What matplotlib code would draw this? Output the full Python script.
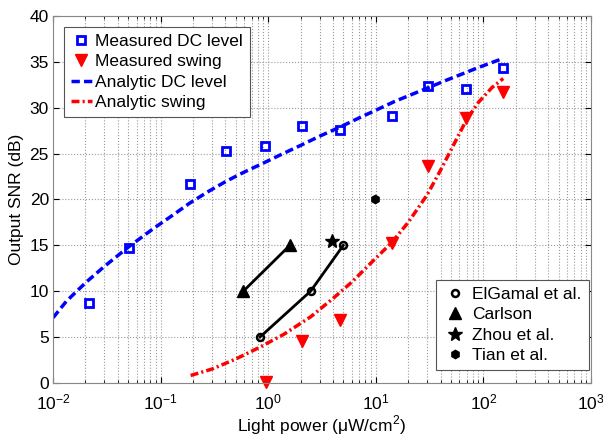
import numpy as np
import matplotlib.pyplot as plt

plt.rcParams['font.family'] = ['Liberation Sans', 'DejaVu Sans']
plt.rcParams['mathtext.fontset'] = 'custom'
plt.rcParams['mathtext.rm'] = 'Liberation Sans'

# measured DC level (squares)
dc_x = [0.0218, 0.0508, 0.186, 0.408, 0.933, 2.06, 4.65, 14.2, 30.8, 68.9, 153]
dc_y = [8.7, 14.7, 21.7, 25.3, 25.8, 28.0, 27.6, 29.1, 32.4, 32.1, 34.3]

# measured swing (triangles)
sw_x = [0.95, 2.07, 4.68, 14.06, 30.7, 68.9, 153]
sw_y = [0.1, 4.6, 6.8, 15.2, 23.7, 28.85, 31.75]

# analytic DC level
adc_x = [0.01, 0.0133, 0.0204, 0.03, 0.05, 0.085, 0.13, 0.186, 0.28, 0.408, 0.6,
         0.84, 1.37, 2.0, 3.0, 4.65, 7.0, 9.84, 15, 20, 30.8, 45, 60.6, 90, 153]
adc_y = [7.1, 8.9, 11.0, 12.7, 14.8, 16.8, 18.3, 19.6, 20.9, 22.0, 23.0,
         23.8, 25.0, 25.9, 26.9, 27.9, 28.9, 29.7, 30.7, 31.3, 32.2, 33.0, 33.6, 34.4, 35.4]

# analytic swing
asw_x = [0.19, 0.3, 0.5, 0.84, 1.4, 2.48, 4.0, 6.0, 10, 14.06, 20, 30, 40, 50,
         69, 90, 120, 153]
asw_y = [0.8, 1.5, 2.6, 3.9, 5.3, 7.2, 9.2, 11.0, 13.6, 15.3, 17.5, 20.5, 23.2, 25.4,
         28.6, 30.6, 32.2, 33.2]

# other published results
elgamal_x = [0.84, 2.48, 4.99]
elgamal_y = [5, 10, 15]
carlson_x = [0.587, 1.59]
carlson_y = [10, 15]
zhou_x = [3.92]
zhou_y = [15.5]
tian_x = [9.9]
tian_y = [20]

fig = plt.figure(figsize=(6.03, 4.37), dpi=100)
ax = fig.add_axes([0.088, 0.124, 0.892, 0.839])

h1, = ax.plot(dc_x, dc_y, 's', color='#0000ff', mfc='none', mew=2, ms=6, ls='none', label='Measured DC level')
h2, = ax.plot(sw_x, sw_y, 'v', color='#ff0000', ms=8, ls='none', label='Measured swing', clip_on=False)
h3, = ax.plot(adc_x, adc_y, '--', color='#0000ff', lw=2.5, dashes=(2.4, 1.2), label='Analytic DC level')
h4, = ax.plot(asw_x, asw_y, '-.', color='#ff0000', lw=2.5, dashes=(2.3, 0.9, 0.6, 0.9), label='Analytic swing')

h5, = ax.plot(elgamal_x, elgamal_y, 'o-', color='black', lw=2, ms=5, mfc='none', mew=1.8, label='ElGamal et al.')
h6, = ax.plot(carlson_x, carlson_y, '^-', color='black', lw=2, ms=8, label='Carlson')
h7, = ax.plot(zhou_x, zhou_y, '*', color='black', ms=10, ls='none', label='Zhou et al.')
h8, = ax.plot(tian_x, tian_y, 'h', color='black', ms=6, ls='none', label='Tian et al.')

ax.set_xscale('log')
ax.set_xlim(1e-2, 1e3)
ax.set_ylim(0, 40)
ax.set_yticks(np.arange(0, 41, 5))
ax.grid(True, which='major', ls=':', color='#999999', lw=0.8)
ax.grid(True, which='minor', axis='x', ls=':', color='#999999', lw=0.8)
ax.tick_params(which='both', direction='in', top=True, right=True, labelsize=12.5)
ax.tick_params(axis='x', which='major', pad=7)
ax.tick_params(axis='y', pad=3)
ax.tick_params(which='major', length=4)
ax.tick_params(which='minor', length=2)
for s in ax.spines.values():
    s.set_color('#888888')

ax.set_xlabel('Light power (\u03bcW/cm$^2$)', fontsize=12.5, labelpad=1)
ax.set_ylabel('Output SNR (dB)', fontsize=12.5, labelpad=4)

leg1 = ax.legend(handles=[h1, h2, h3, h4], loc='upper left', bbox_to_anchor=(0.0204, 0.971),
                 fontsize=12.5, fancybox=False, edgecolor='#555555', framealpha=1,
                 handlelength=1.2, handletextpad=0.2, borderpad=0.4,
                 labelspacing=0.3, borderaxespad=0)
leg1.get_frame().set_linewidth(0.8)
ax.add_artist(leg1)

leg2 = ax.legend(handles=[h5, h6, h7, h8], loc='lower right', bbox_to_anchor=(0.996, 0.035),
                 fontsize=12.5, fancybox=False, edgecolor='#555555', framealpha=1,
                 handlelength=1.4, handletextpad=0.3, borderpad=0.4,
                 labelspacing=0.3, borderaxespad=0)
leg2.get_frame().set_linewidth(0.8)
for line in leg2.get_lines():
    line.set_linestyle('none')

fig.savefig('out.png', dpi=100)
